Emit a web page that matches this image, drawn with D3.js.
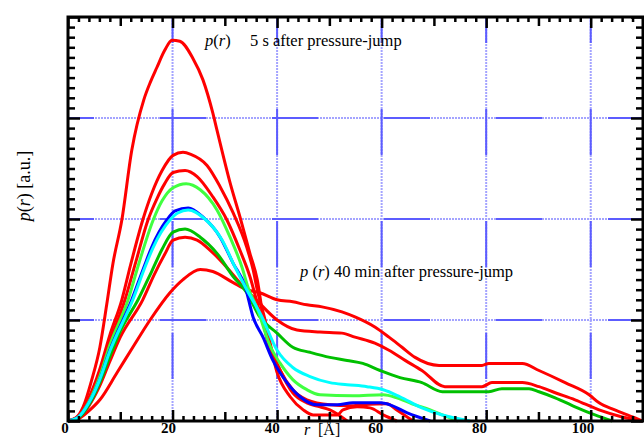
<!DOCTYPE html>
<html>
<head>
<meta charset="utf-8">
<script src="https://cdn.jsdelivr.net/npm/d3@7"></script>
<style>
  body { margin: 0; background: #fff; }
  svg { display: block; }
</style>
</head>
<body>
<script>
// p(r) curves: [r in Angstrom, p(r) in a.u.]
let curveR1 = [[0,0],[1.5,0.3],[2.9,1.4],[4.5,4],[6.1,7.3],[7.4,11.5],[8.6,15.6],[10.3,19.9],[12.2,26.8],[14.5,31.8],
  [15.8,33.6],[17,35],[18.5,36.7],[19.9,37.7],[21.4,37.6],[23.9,35.9],[25.8,33.8],[27.7,30.5],[28.5,28.8],[31,23.6],
  [32.9,20.2],[34.8,16.6],[36.2,14],[37.7,9],[40.6,5],[43,2.8],[45.7,1.8],[48.2,1.4],[50.1,1.1],[53.4,0]];
let curveR2 = [[0,0],[2,0.5],[4,2.3],[6,5],[8,8.5],[10.3,12],[12,15.5],[14.3,19.9],[16,22.5],[18,24.8],[20.1,26.3],
  [22,26.6],[23.5,26.4],[26.6,25.3],[29.1,23.2],[31.6,20.6],[34.2,17.2],[35.4,15],[36.2,13],[37.7,10],[40,4.8],
  [42.5,2.4],[45,1.1],[46.9,0.6],[51.5,0.6],[52.6,1.1],[55.3,1.4],[57.8,1.3],[60.3,0.6],[62.9,0]];
let curveR3 = [[0,0],[2,0.4],[4,2],[6,4.5],[8,7.8],[10.9,12],[13,15.8],[15.3,19.9],[17,22],[18.5,23.5],[20.1,24.6],
  [22.4,24.8],[24.7,24.2],[27.7,22.2],[30.4,19.9],[32.9,16.9],[34.8,14.3],[36.3,11.5],[38.3,8],[40.6,5],[43,3.1],
  [45.7,2.1],[50.1,1.6],[54,1.5],[56.4,1.6],[61,1.7],[62.9,1.1],[66,0]];
let curveR4 = [[0,0],[2,0.3],[4,1.5],[6,3.4],[8,5.9],[10,8.3],[14.3,12],[16.5,14.5],[18.5,16.5],[20.1,17.9],[22.4,18.2],
  [24.7,17.9],[27.2,16.9],[30.4,15.2],[33,13.6],[36,12],[40,10],[43.8,9],[48.2,8.8],[52.4,8.7],[54.9,8.3],[58.7,7.7],
  [61.4,7],[64.5,6],[67.7,5],[72.1,3.4],[79.2,3.4],[81.1,3.8],[86.9,3.8],[90.1,3.4],[93.2,2.8],[97,2.1],[101.6,1.1],
  [106,0.4],[109.8,0]];
let curveR5 = [[0,0],[2.3,0.3],[4,1],[6.1,2.1],[9.4,4.8],[12.4,7.3],[15.7,10],[19.5,12.7],[22,14],[25.3,15],[27.7,14.8],
  [31.6,13.7],[34.2,13],[36.7,12.7],[40,12],[43,11.8],[45.7,11.5],[48.6,11.3],[52.4,10.8],[54.9,10.3],[58.7,9.3],
  [61.4,8.3],[63.9,7.3],[66.4,6.3],[71,5.5],[79.2,5.5],[80.5,5.7],[86.9,5.7],[90.1,5],[95.1,3.8],[99.7,2.6],
  [101.6,1.8],[104.6,1.1],[108.5,0.3],[109.8,0]];
let curveDarkGreen = [[0,0],[2,0.3],[4,1.6],[6,3.7],[8,6.4],[10,8.9],[13.4,12],[16,14.8],[18,17],[20.1,18.7],[22.4,19],
  [25.3,18.2],[28.5,16.6],[31.6,14.3],[34.2,12.7],[36.7,10.3],[40,8.7],[43,7.3],[46.3,6.8],[50.1,6.3],[53.4,6],
  [56.4,5.7],[59.7,5],[63.5,4.3],[67.7,3.8],[71.6,2.9],[80.5,2.9],[83,3.2],[88.2,3.2],[90.1,2.9],[93.2,2.3],[97,1.4],
  [100.8,0.6],[104.1,0]];
let curveLightGreen = [[0,0],[2,0.4],[4,1.9],[6,4.3],[8,7.5],[11.5,12],[13.5,15.5],[16.3,19.9],[18,21.8],[20.1,23.1],
  [22.6,23.5],[25.3,22.9],[28.5,20.9],[31,18.2],[33.3,15.2],[34.4,13.3],[36.3,11],[38.6,7.5],[40.6,5.7],[43,4.1],
  [45.7,3.1],[48.2,2.6],[54.5,2.5],[60.3,2.6],[62.9,2.3],[65.8,1.7],[69.3,1.1],[72.1,0.5],[74.6,0]];
let curveBlue = [[0,0],[2,0.4],[4,1.8],[6,4],[8,7],[12.2,12],[14.5,15.2],[16,17.2],[18.9,19.9],[20.5,20.8],[23,21.1],
  [25.8,20.2],[29.1,18.2],[31.6,15.6],[33.9,13.3],[35.4,10.3],[37.3,8.3],[39.2,6],[41.9,3.8],[44.4,2.4],[47.6,1.6],
  [51.5,1.6],[54.5,1.8],[59.7,1.8],[61.6,1.6],[64.9,0.8],[69.3,0]];
let curveCyan = [[0,0],[2,0.4],[4,1.8],[6,4],[8,6.9],[12.4,12],[14.7,15.2],[16.3,17.2],[19.5,19.9],[21,20.6],[23,20.9],
  [26.2,20],[29.5,17.9],[31.9,15.3],[34.2,13],[37.1,10.3],[40,7],[43,5.3],[46.3,4.4],[50.1,3.8],[53.4,3.6],[57.2,3.4],
  [60.3,3.1],[63.5,2.4],[67.7,1.3],[71.6,0.6],[74,0.3],[76.9,0]];

let seriesNames = ["r1", "r2", "r3", "r4", "r5", "darkGreen", "lightGreen", "blue", "cyan"];
let seriesData = [curveR1, curveR2, curveR3, curveR4, curveR5, curveDarkGreen, curveLightGreen, curveBlue, curveCyan];
let seriesColors = ["#ff0000", "#ff0000", "#ff0000", "#ff0000", "#ff0000", "#00c000", "#40ff40", "#0000ff", "#00ffff"];

let xTickLabels = [0, 20, 40, 60, 80, 100];
let xGridValues = [20, 40, 60, 80, 100];
let yGridValues = [10, 20, 30];

let width = 644;
let height = 439;
let plotLeft = 68, plotRight = 643, plotTop = 17, plotBottom = 421;
let serif = "'Liberation Serif', 'DejaVu Serif', serif";

let svg = d3.select("body").append("svg")
            .attr("width", width)
            .attr("height", height);

let x = d3.scaleLinear().domain([0, 110]).range([plotLeft, plotRight]);
let y = d3.scaleLinear().domain([0, 40]).range([plotBottom, plotTop]);
// the printed numbers sit a little left of their ticks
let xLabelPos = d3.scaleLinear().domain([0, 100]).range([65, 583]);

// blue grid: a pale dotted-looking base with darker solid runs on top
function drawGrid(sel) {
  sel.append("g").selectAll("line").data(xGridValues).join("line")
     .attr("x1", d => x(d)).attr("x2", d => x(d))
     .attr("y1", plotTop).attr("y2", plotBottom);
  sel.append("g").selectAll("line").data(yGridValues).join("line")
     .attr("x1", plotLeft).attr("x2", plotRight)
     .attr("y1", d => y(d)).attr("y2", d => y(d));
}

svg.append("g")
   .attr("stroke", "#a4a4ff").attr("stroke-width", 2).attr("stroke-dasharray", "2,1")
   .call(drawGrid);
svg.append("g")
   .attr("stroke", "#5c5cff").attr("stroke-width", 2).attr("stroke-dasharray", "46,66")
   .attr("stroke-dashoffset", 20)
   .call(drawGrid);

// curves
let line = d3.line().x(d => x(d[0])).y(d => y(d[1])).curve(d3.curveMonotoneX);
let colorOf = d3.scaleOrdinal().domain(seriesNames).range(seriesColors);

svg.append("g").selectAll("path").data(seriesNames).join("path")
   .attr("d", (name, i) => line(seriesData[i]))
   .attr("fill", "none")
   .attr("stroke", name => colorOf(name))
   .attr("stroke-width", 3)
   .attr("stroke-linejoin", "round");

// inward ticks on all four sides
function xTickLength(v) { return v % 20 === 0 ? 11 : (v % 10 === 0 ? 9 : 5); }
function yTickLength(v) { return v % 10 === 0 ? 12 : 7; }

let xTickValues = d3.range(0, 111, 2).concat([110]);
let yTickValues = d3.range(0, 41, 1);

let axisBottom = d3.axisBottom(x).tickValues(xTickValues).tickSizeOuter(0).tickFormat("");
let axisTop = d3.axisTop(x).tickValues(xTickValues).tickSizeOuter(0).tickFormat("");
let axisLeft = d3.axisLeft(y).tickValues(yTickValues).tickSizeOuter(0).tickFormat("");
let axisRight = d3.axisRight(y).tickValues(yTickValues).tickSizeOuter(0).tickFormat("");

function styleTicks(g, lengthFn, dir) {
  g.select(".domain").remove();
  g.selectAll(".tick line")
   .attr("stroke", "#000").attr("stroke-width", 2.5)
   .each(function(d) {
     let len = lengthFn(d) * dir;
     let sel = d3.select(this);
     if (sel.attr("y2") !== null && sel.attr("x2") === null) sel.attr("y2", len);
     else sel.attr("x2", len);
   });
}

svg.append("g").attr("transform", "translate(0," + plotBottom + ")")
   .call(axisBottom).call(g => styleTicks(g, xTickLength, -1));
svg.append("g").attr("transform", "translate(0," + plotTop + ")")
   .call(axisTop).call(g => styleTicks(g, xTickLength, 1));
svg.append("g").attr("transform", "translate(" + plotLeft + ",0)")
   .call(axisLeft).call(g => styleTicks(g, yTickLength, 1));
svg.append("g").attr("transform", "translate(" + plotRight + ",0)")
   .call(axisRight).call(g => styleTicks(g, yTickLength, -1));

// frame
svg.append("rect")
   .attr("x", plotLeft).attr("y", plotTop)
   .attr("width", plotRight - plotLeft).attr("height", plotBottom - plotTop)
   .attr("fill", "none").attr("stroke", "#000").attr("stroke-width", 3);

// x tick labels
svg.append("g").selectAll("text").data(xTickLabels).join("text")
   .attr("x", d => xLabelPos(d))
   .attr("y", 433)
   .attr("text-anchor", "middle")
   .attr("font-family", serif).attr("font-weight", "bold").attr("font-size", 15)
   .text(d => d);

// axis titles
let xTitle = svg.append("text")
   .attr("y", 435)
   .attr("font-family", serif).attr("font-size", 16);
xTitle.append("tspan").attr("x", 304).attr("font-style", "italic").text("r");
xTitle.append("tspan").attr("x", 318).text("[Å]");

let yTitle = svg.append("text")
   .attr("transform", "translate(30,186) rotate(-90)")
   .attr("text-anchor", "middle")
   .attr("font-family", serif).attr("font-size", 18);
yTitle.append("tspan").attr("font-style", "italic").text("p");
yTitle.append("tspan").text("(");
yTitle.append("tspan").attr("font-style", "italic").text("r");
yTitle.append("tspan").text(") [a.u.]");

// annotations
let note1 = svg.append("text")
   .attr("x", 205).attr("y", 46)
   .attr("font-family", serif).attr("font-size", 16.5);
note1.append("tspan").attr("font-style", "italic").text("p");
note1.append("tspan").text("(");
note1.append("tspan").attr("font-style", "italic").text("r");
note1.append("tspan").text(")");
note1.append("tspan").attr("x", 250).text("5 s after pressure-jump");

let note2 = svg.append("text")
   .attr("x", 300).attr("y", 277)
   .attr("font-family", serif).attr("font-size", 16.5);
note2.append("tspan").attr("font-style", "italic").text("p");
note2.append("tspan").text(" (");
note2.append("tspan").attr("font-style", "italic").text("r");
note2.append("tspan").text(") 40 min after pressure-jump");
</script>
</body>
</html>
